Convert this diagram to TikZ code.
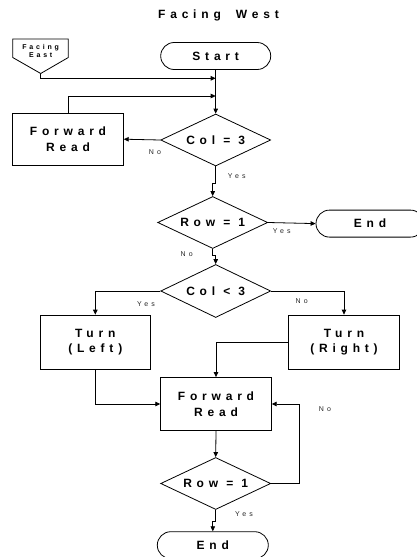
\documentclass[tikz,border=0pt]{standalone}
\usepackage{fontspec}
\newfontfamily\mainf{Liberation Sans}[LetterSpace=40]
\newfontfamily\labf{Liberation Sans}[LetterSpace=45]
\usetikzlibrary{shapes.geometric,arrows.meta,calc}
\begin{document}
\begin{tikzpicture}[x=1pt,y=-1pt,
  line width=0.8pt,
  big/.style={font=\mainf\bfseries\fontsize{12}{15.5}\selectfont, align=center},
  boxnode/.style={big, draw, rectangle, minimum width=110.6pt, minimum height=53pt, inner sep=0pt},
  dia/.style={big, draw, diamond, aspect=2.1, minimum width=110pt, minimum height=52pt, inner sep=0pt},
  term/.style={big, draw, rectangle, rounded corners=13.5pt, minimum width=110pt, minimum height=27pt, inner sep=0pt},
  lab/.style={font=\labf\fontsize{7}{8}\selectfont, inner sep=0pt, text=black!85},
  arr/.style={-{Triangle[length=5pt,width=4.5pt]}},
]
\useasboundingbox (0,0) rectangle (417,557);

% title
\node[big] (title) at (218.5,15) {Facing\hspace{7pt} West};

% facing east off-page connector
\draw (12.7,39) -- (68.3,39) -- (68.3,57.5) -- (40.7,73.5) -- (12.7,57.5) -- cycle;
\node[font=\mainf\bfseries\fontsize{7}{8.3}\selectfont, align=center, inner sep=0pt] (fe) at (40.7,51) {Facing\\East};
\coordinate (fetip) at (40.7,73.5);

% nodes
\node[term] (start) at (215.7,56) {Start};
\node[dia] (c3) at (215.7,140) {Col = 3};
\node[boxnode, minimum height=51.7pt] (fr1) at (68,139.2) {Forward\\Read};
\node[dia] (r1) at (212.7,222.5) {Row = 1};
\node[term, minimum width=108pt] (end1) at (370,223.6) {End};
\node[dia, minimum height=53pt] (cl3) at (215.7,291) {Col < 3};
\node[boxnode, minimum height=54.3pt] (tl) at (95.3,342.2) {Turn\\(Left)};
\node[boxnode, minimum height=54.3pt] (tr) at (344,342.2) {Turn\\(Right)};
\node[boxnode] (fr2) at (216,404) {Forward\\Read};
\node[dia] (r2) at (215.7,483.5) {Row = 1};
\node[term, minimum width=111pt] (end2) at (212.8,545.2) {End};

% junctions on the main line
\coordinate (j1) at (215.7,78.3);
\coordinate (j2) at (215.7,96);

% connectors
\draw[arr] (start.south) -- (c3.north);
\draw[arr] (fetip) |- (j1);
\draw[arr] (fr1.north) |- (j2);
\draw[arr] (c3.west) -- (fr1.east);
\draw[arr] (c3.south) -- ++(0,17) -| (r1.north);
\draw[arr] (r1.east) -- (end1.west);
\draw[arr] (r1.south) -- ++(0,6) -| (cl3.north);
\draw[arr] (cl3.west) -| (tl.north);
\draw[arr] (cl3.east) -| (tr.north);
\draw[arr] (tr.west) -| (fr2.north);
\draw[arr] (tl.south) |- (fr2.west);
\draw[arr] (fr2.south) -- (r2.north);
\draw[arr] (r2.east) -- ++(28.3,0) |- (fr2.east);
\draw[arr] (r2.south) -- ++(0,11) -| (end2.north);

% labels
\node[lab] (l1) at (155,151.7) {No};
\node[lab] (l2) at (236.7,176) {Yes};
\node[lab] (l3) at (281.7,231) {Yes};
\node[lab] (l4) at (186.7,254) {No};
\node[lab] (l5) at (146,304.3) {Yes};
\node[lab] (l6) at (301.7,300.7) {No};
\node[lab] (l7) at (325,409.3) {No};
\node[lab] (l8) at (244,514.3) {Yes};
\end{tikzpicture}
\end{document}
